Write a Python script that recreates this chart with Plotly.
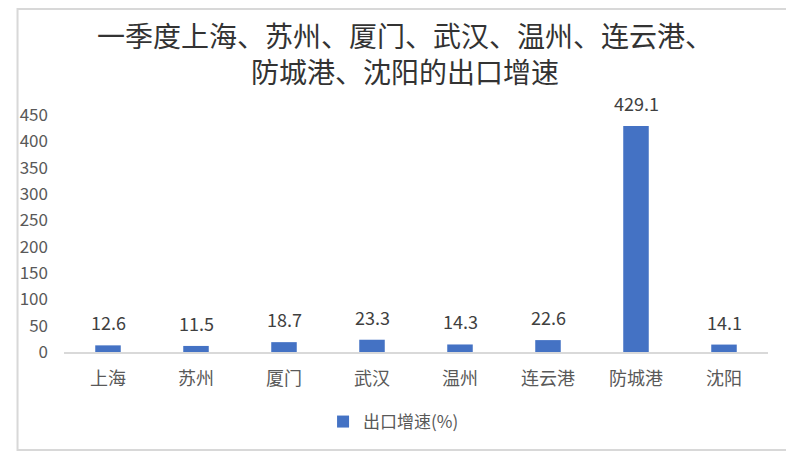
import plotly.graph_objects as go

cities = ["上海", "苏州", "厦门", "武汉", "温州", "连云港", "防城港", "沈阳"]
growth = [12.6, 11.5, 18.7, 23.3, 14.3, 22.6, 429.1, 14.1]
series_name = "出口增速(%)"
y_ticks = [0, 50, 100, 150, 200, 250, 300, 350, 400, 450]
title_text = "一季度上海、苏州、厦门、武汉、温州、连云港、<br>防城港、沈阳的出口增速"

# page body adds an 8px offset, so the figure is a little smaller than the window
W, H = 786, 444
ML, MR, MT, MB = 48, 26, 107, 100
pw, ph = W - ML - MR, H - MT - MB


def paper_y(px_from_top):
    return (H - MB - px_from_top) / ph


fig = go.Figure()
fig.add_trace(go.Bar(
    x=cities, y=growth, name=series_name,
    marker=dict(color="#4472C4", line=dict(width=0)),
    showlegend=True,
))

# data labels above the bars
for c, v in zip(cities, growth):
    fig.add_annotation(
        x=c, y=v, text=f"{v:.1f}", showarrow=False,
        yanchor="bottom", yshift=8,
        font=dict(family="Noto Sans CJK SC", size=18, color="#404040"),
    )

# two-line title, centred on the whole picture rather than the plot area
fig.add_annotation(
    text=title_text, xref="paper", yref="paper",
    x=(W / 2 - ML) / pw, y=paper_y(45),
    xanchor="center", yanchor="middle", showarrow=False,
    font=dict(family="Noto Sans CJK SC", size=28, color="#333333"),
)

# light frame around the picture
fig.add_shape(
    type="rect", xref="paper", yref="paper",
    x0=-(ML - 1) / pw, x1=(W - ML - 2) / pw,
    y0=-(MB - 2) / ph, y1=(ph + MT - 1) / ph,
    line=dict(color="#d8d8d8", width=2),
)

fig.update_layout(
    width=W, height=H,
    margin=dict(l=ML, r=MR, t=MT, b=MB),
    paper_bgcolor="white", plot_bgcolor="white",
    bargap=0.71,
    xaxis=dict(
        showline=True, linecolor="#d9d9d9", linewidth=2,
        ticks="", showgrid=False, ticklabelstandoff=9,
        tickfont=dict(family="Noto Sans CJK SC", size=18, color="#595959"),
    ),
    yaxis=dict(
        range=[0, 450], tickvals=y_ticks, showgrid=False, zeroline=False,
        showline=False, ticks="", ticklabelstandoff=15,
        tickfont=dict(family="Noto Sans CJK SC", size=17, color="#595959"),
    ),
    legend=dict(
        orientation="h", x=(318 - 8 - ML) / pw, xanchor="left",
        y=-70 / ph, yanchor="middle", itemwidth=30,
        font=dict(family="Noto Sans CJK SC", size=17, color="#595959"),
    ),
)

fig.write_html("out.html")
